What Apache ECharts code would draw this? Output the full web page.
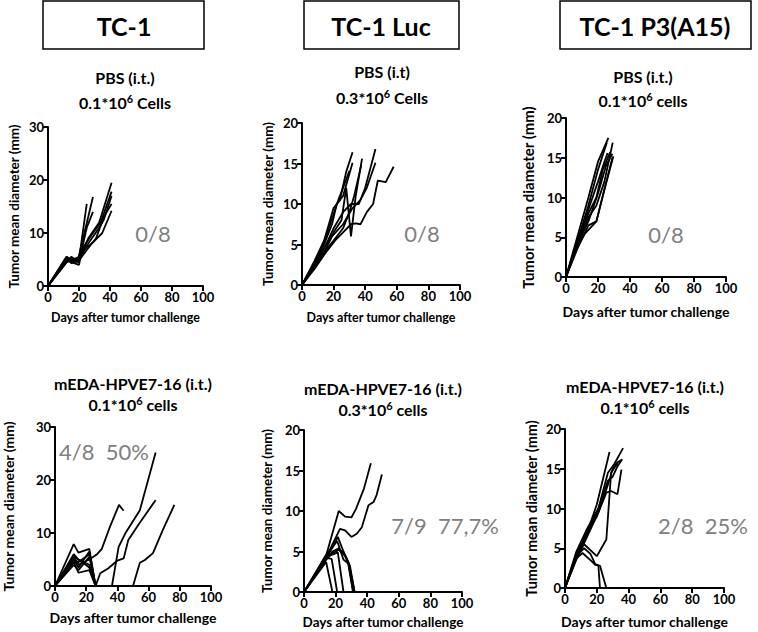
<!DOCTYPE html>
<html>
<head>
<meta charset="utf-8">
<script src="https://cdn.jsdelivr.net/npm/echarts@6/dist/echarts.min.js"></script>
<style>
html,body{margin:0;padding:0;background:#fff;}
#chart{width:758px;height:632px;}
</style>
</head>
<body>
<div id="chart"></div>
<script>
// ---------- DATA ----------
const cellLines = ['TC-1', 'TC-1 Luc', 'TC-1 P3(A15)'];
const topTreat = ['PBS (i.t.)', 'PBS (i.t)', 'PBS (i.t.)'];
const topDose = ['0.1*10', '0.3*10', '0.1*10'];
const topDoseWord = ['Cells', 'Cells', 'cells'];
const botTreat = ['mEDA-HPVE7-16 (i.t.)', 'mEDA-HPVE7-16 (i.t.)', 'mEDA-HPVE7-16 (i.t.)'];
const botDose = ['0.1*10', '0.3*10', '0.1*10'];
const botDoseWord = ['cells', 'cells', 'cells'];
const cureText = ['0/8', '0/8', '0/8', '4/8  50%', '7/9  77,7%', '2/8  25%'];
const xAxisName = 'Days after tumor challenge';
const yAxisName = 'Tumor mean diameter (mm)';
const xMax = 100, xStep = 20;
const yMax = [30, 20, 20, 30, 20, 20];
const yStep = [10, 5, 5, 10, 5, 5];

// Panel 1: TC-1, PBS  ([day, diameter mm] per mouse)
const tc1Pbs = [
  [[0,0],[12,5.5],[15,4.5],[20,5],[25,15.5]],
  [[0,0],[12,5],[15,5],[19,4.5],[29,16.8]],
  [[0,0],[12,4.5],[15,5.5],[20,4.5],[25,11],[29,14]],
  [[0,0],[12,5.5],[15,5],[20,5],[26,9],[33,12],[41,19.5]],
  [[0,0],[12,5],[15,4.5],[20,4],[22,7],[29,10],[34,12],[41,17.8]],
  [[0,0],[12,4.5],[15,4.8],[20,5.5],[26,8],[33,11],[36,12.5],[41,17]],
  [[0,0],[12,4.8],[15,5],[20,5],[24,7],[30,8.5],[35,10],[41,14.2]],
  [[0,0],[12,5.2],[15,4.3],[20,4.8],[25,6.8],[31,9],[36,13],[41,15.5]]
];
// Panel 2: TC-1 Luc, PBS
const lucPbs = [
  [[0,0],[8,3],[14,5.5],[20,9.5],[24,10.5],[28,14],[32,16.4]],
  [[0,0],[8,2.8],[14,5],[19,7.5],[22,10],[26,11],[32,15.1]],
  [[0,0],[8,2.7],[14,5.2],[20,8.8],[23,10.5],[26,12],[30,14.1]],
  [[0,0],[8,2.5],[14,4.5],[20,6.5],[25,8],[28,12],[31,6],[34,11],[38,15.6]],
  [[0,0],[8,2.3],[14,4],[20,5.5],[26,7],[30,9],[33,11],[37.5,14.8]],
  [[0,0],[8,2.5],[14,4.5],[20,7],[26,9],[31,10],[36,10],[40,12],[46.5,16.8]],
  [[0,0],[8,2.2],[14,4],[19,6],[26,7.5],[32,9.5],[37,10.5],[41,12],[46.5,15.1]],
  [[0,0],[8,2],[15,4],[21,5.5],[26,6.5],[31,7.5],[34,7.6],[37,7.5],[41,9],[45,10],[48,12.9],[53,12.7],[58,14.6]]
];
// Panel 3: TC-1 P3(A15), PBS
const p3Pbs = [
  [[0,0],[7,5],[14,10],[20,14.5],[26.5,17.5]],
  [[0,0],[7,4.5],[14,9],[20,13.5],[25.5,16.9]],
  [[0,0],[7,4.2],[14,8.5],[20,12],[24,14.5],[26,15.6]],
  [[0,0],[7,4],[14,8],[19,10],[23,13.5],[27.6,15.7]],
  [[0,0],[7,3.8],[14,7.5],[19,9],[24,12],[29.2,16.9]],
  [[0,0],[7,3.5],[14,6.5],[19,7],[24,11],[29.6,15.2]],
  [[0,0],[7,4],[14,7],[20,10.5],[25,14],[29,15.5]],
  [[0,0],[6,3.5],[12,5.5],[19,7],[24,11],[29,15]]
];
// Panel 4: TC-1, mEDA-HPVE7-16
const tc1Eda = [
  [[0,0],[12,7.9],[15,6.3],[22,7],[26,0],[29,2.4],[34,3.3],[40,4.8],[44,5.2],[47,8.7],[54,11.8],[64.5,16.2]],
  [[0,0],[12,5.5],[15,4],[22,5],[27,6],[30,7],[35,11],[41,15.3],[44,14.2]],
  [[0,0],[12,5],[15,3.5],[22,6.5],[26,0],[36.5,0],[40.8,7.4],[45,9.9],[54.4,14.3],[64.5,25.2]],
  [[0,0],[12,5.5],[15,5],[22,4],[26,0],[50,0],[54.4,4.4],[57.6,4.9],[62.8,6.2],[69,10.5],[76.5,15.3]],
  [[0,0],[12,4.5],[15,2.5],[22,3],[26,0]],
  [[0,0],[12,5],[15,4.5],[22,6],[26,0]],
  [[0,0],[12,4],[15,3],[22,5.5],[26,0]],
  [[0,0],[12,6],[15,5],[22,3.5],[26,0]]
];
// Panel 5: TC-1 Luc, mEDA-HPVE7-16
const lucEda = [
  [[0,0],[7,2],[14,4.5],[22,10],[26,9.3],[30,9.2],[33,10.3],[38,12.8],[42.3,15.9]],
  [[0,0],[7,2],[14,4.3],[22.8,7.8],[26,7.6],[30,6.8],[33.4,7.2],[36.6,8],[40.8,10.7],[44,11.1],[46,12],[49.3,14.5]],
  [[0,0],[14,4.2],[18,5.5],[21.4,6.8],[25,5],[29,3.3],[32,0]],
  [[0,0],[14,4],[18,5],[22,5.4],[25,4.8],[28,3.7],[31.3,0]],
  [[0,0],[14,4],[18,4.8],[22,5.2],[26,4.5],[29,3],[32,0]],
  [[0,0],[14,3.7],[18,0]],
  [[0,0],[14,4.2],[17.5,4.1],[21,0]],
  [[0,0],[14,4.4],[18,4.6],[21.4,4.9],[25,0]],
  [[0,0],[14,4.6],[18,5.5],[21,6.3],[25,4],[28,3.5],[31,0]]
];
// Panel 6: TC-1 P3(A15), mEDA-HPVE7-16
const p3Eda = [
  [[0,0],[7,4],[14,7],[20,10.5],[28,17.1]],
  [[0,0],[7,4.5],[14,7.5],[21,10],[27,14.5],[31,15.6],[36.5,17.6]],
  [[0,0],[7,3.5],[14,6.5],[21,9.5],[27,13],[30,15],[33,15.8],[35.5,16.1]],
  [[0,0],[7,3.8],[14,7],[21,10],[27,13.5],[30,14],[33,15.3],[36,16.2]],
  [[0,0],[7,4.2],[14,7],[20,9],[26,12],[29,12.2],[33,11.8],[35.5,14.9]],
  [[0,0],[7,4],[12,5.5],[20,4],[26,6.1],[29,14.5],[33,15.7]],
  [[0,0],[7,3.7],[11,4.4],[16,3.5],[19,2.9],[21,2.8],[22,0]],
  [[0,0],[7,4],[12,5],[16,4.3],[19,3],[22,2.8],[26,0]]
];
const panels = [tc1Pbs, lucPbs, p3Pbs, tc1Eda, lucEda, p3Eda];

// ---------- LAYOUT ----------
const FONT = 'Lato, "Open Sans", sans-serif';
const grids = [
  {left: 48,  top: 127, width: 155, height: 159},
  {left: 302, top: 123, width: 158, height: 162},
  {left: 566, top: 118, width: 160, height: 159},
  {left: 52,  top: 427, width: 159, height: 159},
  {left: 304, top: 430, width: 158, height: 162},
  {left: 565, top: 429, width: 159, height: 159}
];
const yNameSize = [13.5, 13.5, 15, 14, 13.5, 14.5];
const yNameGap = [27, 27, 31, 40, 30, 26];
const xNameSize = [12.5, 12.5, 14, 14, 13.5, 14];
const xNameGap = [25, 26, 27, 24, 23, 26];

const axisLineStyle = {color: '#000', width: 2};
const xAxes = grids.map((g, i) => ({
  gridIndex: i, type: 'value', min: 0, max: xMax, interval: xStep,
  axisLine: {show: true, onZero: false, lineStyle: axisLineStyle},
  axisTick: {show: true, length: 5, lineStyle: axisLineStyle},
  splitLine: {show: false},
  axisLabel: {color: '#000', fontWeight: 'bold', fontSize: 13, margin: 4, fontFamily: FONT},
  name: xAxisName, nameLocation: 'middle', nameGap: xNameGap[i],
  nameTextStyle: {color: '#000', fontWeight: 'bold', fontSize: xNameSize[i], fontFamily: FONT}
}));
const yAxes = grids.map((g, i) => ({
  gridIndex: i, type: 'value', min: 0, max: yMax[i], interval: yStep[i],
  axisLine: {show: true, onZero: false, lineStyle: axisLineStyle},
  axisTick: {show: true, length: 5, lineStyle: axisLineStyle},
  splitLine: {show: false},
  axisLabel: {color: '#000', fontWeight: 'bold', fontSize: 13, margin: 4, fontFamily: FONT},
  name: yAxisName, nameLocation: 'middle', nameGap: yNameGap[i], nameRotate: 90,
  nameTextStyle: {color: '#000', fontWeight: 'bold', fontSize: yNameSize[i], fontFamily: FONT}
}));

const series = [];
panels.forEach((mice, i) => {
  mice.forEach((pts) => {
    series.push({
      type: 'line', xAxisIndex: i, yAxisIndex: i, data: pts,
      showSymbol: false, symbol: 'none', silent: true,
      lineStyle: {color: '#000', width: 1.8}, z: 3
    });
  });
});

// ---------- TEXT / BOXES ----------
const graphic = [];
const boxes = [
  {x: 43, w: 161, cx: 124},
  {x: 304, w: 155, cx: 381},
  {x: 560, w: 191, cx: 655}
];
boxes.forEach((b, i) => {
  graphic.push({type: 'rect', shape: {x: b.x, y: 1, width: b.w, height: 48},
    style: {fill: '#fff', stroke: '#000', lineWidth: 1.5}});
  graphic.push({type: 'text', x: b.cx, y: 26, style: {text: cellLines[i], fill: '#000',
    font: 'bold 25px ' + FONT, textAlign: 'center', textVerticalAlign: 'middle'}});
});
const subPos = [
  {cx: 125, y1: 77, y2: 102},
  {cx: 382, y1: 71, y2: 97},
  {cx: 643, y1: 76, y2: 100},
  {cx: 133, y1: 383, y2: 404},
  {cx: 383, y1: 388, y2: 409},
  {cx: 645, y1: 386, y2: 407}
];
const supRich = {
  n: {fontFamily: FONT, fontWeight: 'bold', fontSize: 16, lineHeight: 18, color: '#000'},
  s: {fontFamily: FONT, fontWeight: 'bold', fontSize: 11, lineHeight: 12, color: '#000', verticalAlign: 'top', padding: [0, 0, 6, 0]}
};
subPos.forEach((p, i) => {
  const treat = i < 3 ? topTreat[i] : botTreat[i - 3];
  const dose = i < 3 ? topDose[i] : botDose[i - 3];
  const word = i < 3 ? topDoseWord[i] : botDoseWord[i - 3];
  graphic.push({type: 'text', x: p.cx, y: p.y1, style: {text: treat, fill: '#000',
    font: 'bold 16px ' + FONT, textAlign: 'center', textVerticalAlign: 'middle'}});
  graphic.push({type: 'text', x: p.cx, y: p.y2, style: {
    text: '{n|' + dose + '}{s|6}{n| ' + word + '}', rich: supRich,
    textAlign: 'center', textVerticalAlign: 'middle'}});
});
const annPos = [
  {cx: 153, cy: 233}, {cx: 422, cy: 233}, {cx: 666, cy: 234},
  {cx: 104, cy: 451}, {cx: 445, cy: 525}, {cx: 703, cy: 525}
];
annPos.forEach((p, i) => {
  graphic.push({type: 'text', x: p.cx, y: p.cy, style: {text: cureText[i], fill: '#808080',
    font: '22px ' + FONT, textAlign: 'center', textVerticalAlign: 'middle'}});
});

const chart = echarts.init(document.getElementById('chart'), null, {renderer: 'svg'});
chart.setOption({
  animation: false,
  backgroundColor: '#fff',
  grid: grids.map(g => Object.assign({containLabel: false}, g)),
  xAxis: xAxes,
  yAxis: yAxes,
  series: series,
  graphic: graphic
});
</script>
</body>
</html>
